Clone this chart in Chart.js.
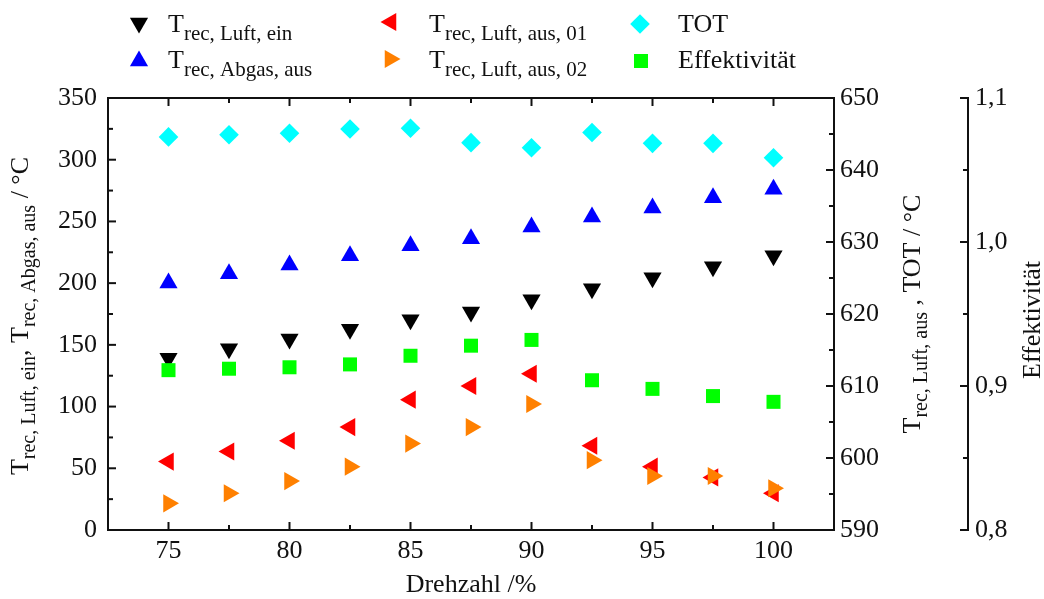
<!DOCTYPE html>
<html>
<head>
<style>
  html, body { margin: 0; padding: 0; background: #ffffff; }
  #wrap { width: 1044px; height: 599px; }
</style>
<script src="https://cdn.jsdelivr.net/npm/chart.js"></script>
</head>
<body>
<div id="wrap"><canvas id="chart" width="1044" height="599"></canvas></div>
<script>
// Drehzahl in %
const drehzahl = [75, 77.5, 80, 82.5, 85, 87.5, 90, 92.5, 95, 97.5, 100];

// left axis, °C
const tLuftEin  = [139.1, 146.9, 154.7, 162.6, 170.4, 176.6, 186.6, 195.5, 204.4, 213.3, 222.2];
const tAbgasAus = [200.1, 207.7, 214.7, 222.2, 230.3, 236.0, 245.5, 253.6, 260.9, 269.2, 276.0];

// right axis, °C
const tLuftAus01 = [599.5, 600.9, 602.4, 604.3, 608.1, 610.0, 611.7, 601.7, 598.8, 597.3, 595.1];
const tLuftAus02 = [593.7, 595.1, 596.8, 598.8, 602.0, 604.3, 607.5, 599.7, 597.5, 597.5, 595.8];
const tot        = [644.6, 644.9, 645.1, 645.7, 645.8, 643.8, 643.1, 645.2, 643.7, 643.7, 641.7];

// outer right axis
const effektivitaet = [0.911, 0.912, 0.913, 0.915, 0.921, 0.928, 0.932, 0.904, 0.898, 0.893, 0.889];

// tick values (major / minor)
const xTicks = [75, 80, 85, 90, 95, 100];
const xMinor = [77.5, 82.5, 87.5, 92.5, 97.5];
const yTicks = [0, 50, 100, 150, 200, 250, 300, 350];
const yMinor = [25, 75, 125, 175, 225, 275, 325];
const y1Ticks = [590, 600, 610, 620, 630, 640, 650];
const y1Minor = [595, 605, 615, 625, 635, 645];
const y2Ticks = [0.8, 0.9, 1.0, 1.1];
const y2Minor = [0.85, 0.95, 1.05];

const SERIF = '"Liberation Serif", "Times New Roman", serif';
const INK = '#111111';

function pts(ys) {
  return drehzahl.map((x, i) => ({ x: x, y: ys[i] }));
}

function ticksFrom(values) {
  return scale => { scale.ticks = values.map(v => ({ value: v })); };
}

// text with subscripts, drawn centred on (x, y) after rotating by angle
function richText(ctx, parts, x, y, angle, align) {
  ctx.save();
  ctx.translate(x, y);
  ctx.rotate(angle);
  ctx.fillStyle = INK;
  ctx.textBaseline = 'alphabetic';
  ctx.textAlign = 'left';
  let total = 0;
  parts.forEach(p => {
    ctx.font = p.size + 'px ' + SERIF;
    p.w = ctx.measureText(p.text).width;
    total += p.w;
  });
  let cx = align === 'center' ? -total / 2 : 0;
  parts.forEach(p => {
    ctx.font = p.size + 'px ' + SERIF;
    ctx.fillText(p.text, cx, p.dy || 0);
    cx += p.w;
  });
  ctx.restore();
}

const series = [
  { label: 'Luft ein',  data: tLuftEin,      axis: 'y',  color: '#000000', style: 'triangle', rot: 180, r: 10.5, order: 5 },
  { label: 'Abgas aus', data: tAbgasAus,     axis: 'y',  color: '#0000ff', style: 'triangle', rot: 0,   r: 10.5, order: 4 },
  { label: 'Luft aus 01', data: tLuftAus01,  axis: 'y1', color: '#ff0000', style: 'triangle', rot: -90, r: 10.5, order: 3 },
  { label: 'Luft aus 02', data: tLuftAus02,  axis: 'y1', color: '#ff8000', style: 'triangle', rot: 90,  r: 10.5, order: 2 },
  { label: 'TOT',       data: tot,           axis: 'y1', color: '#00ffff', style: 'rectRot',  rot: 0,   r: 9.8,  order: 1 },
  { label: 'Effektivität', data: effektivitaet, axis: 'y2', color: '#00ff00', style: 'rect', rot: 0,   r: 9.9,  order: 0 }
];

// legend entries: marker from the series above, text with subscripts
const legendItems = [
  { s: 0, mx: 139, my: 23, tx: 168, ty: 32, parts: [['T', 26], ['rec, Luft, ein', 21, 8]] },
  { s: 1, mx: 139, my: 61, tx: 168, ty: 68, parts: [['T', 26], ['rec, Abgas, aus', 21, 8]] },
  { s: 2, mx: 391, my: 22, tx: 429, ty: 32, parts: [['T', 26], ['rec, Luft, aus, 01', 21, 8]] },
  { s: 3, mx: 390, my: 59, tx: 429, ty: 68, parts: [['T', 26], ['rec, Luft, aus, 02', 21, 8]] },
  { s: 4, mx: 640, my: 24, tx: 678, ty: 32, parts: [['TOT', 26]] },
  { s: 5, mx: 641, my: 61, tx: 678, ty: 68, parts: [['Effektivität', 26]] }
];

const framePlugin = {
  id: 'frame',
  afterDraw(chart) {
    const ctx = chart.ctx;
    const a = chart.chartArea;
    const sx = chart.scales.x, sy = chart.scales.y, sy1 = chart.scales.y1, sy2 = chart.scales.y2;
    ctx.save();
    ctx.strokeStyle = INK;
    ctx.lineWidth = 2;
    ctx.lineCap = 'butt';
    ctx.strokeRect(a.left, a.top, a.right - a.left, a.bottom - a.top);

    const seg = (x1, y1, x2, y2) => { ctx.beginPath(); ctx.moveTo(x1, y1); ctx.lineTo(x2, y2); ctx.stroke(); };

    // inward ticks on bottom and top
    xTicks.forEach(v => { const p = sx.getPixelForValue(v); seg(p, a.bottom, p, a.bottom - 8); seg(p, a.top, p, a.top + 8); });
    xMinor.forEach(v => { const p = sx.getPixelForValue(v); seg(p, a.bottom, p, a.bottom - 5); seg(p, a.top, p, a.top + 5); });
    // left axis
    yTicks.forEach(v => { const p = sy.getPixelForValue(v); seg(a.left, p, a.left + 8, p); });
    yMinor.forEach(v => { const p = sy.getPixelForValue(v); seg(a.left, p, a.left + 5, p); });
    // right axis
    y1Ticks.forEach(v => { const p = sy1.getPixelForValue(v); seg(a.right, p, a.right - 8, p); });
    y1Minor.forEach(v => { const p = sy1.getPixelForValue(v); seg(a.right, p, a.right - 5, p); });
    // outer right axis
    const ox = sy2.left;
    seg(ox, sy2.getPixelForValue(1.1) - 1, ox, sy2.getPixelForValue(0.8) + 1);
    y2Ticks.forEach(v => { const p = sy2.getPixelForValue(v); seg(ox, p, ox - 8, p); });
    y2Minor.forEach(v => { const p = sy2.getPixelForValue(v); seg(ox, p, ox - 5, p); });
    ctx.restore();

    // axis titles
    const midY = (a.top + a.bottom) / 2;
    richText(ctx, [{ text: 'Drehzahl /%', size: 26 }], (a.left + a.right) / 2, 592, 0, 'center');
    richText(ctx, [
      { text: 'T', size: 26 }, { text: 'rec, Luft, ein', size: 20, dy: 7 },
      { text: ', ', size: 26 },
      { text: 'T', size: 26 }, { text: 'rec, Abgas, aus', size: 20, dy: 7 },
      { text: ' / °C', size: 26 }
    ], 28, midY + 2, -Math.PI / 2, 'center');
    richText(ctx, [
      { text: 'T', size: 26 }, { text: 'rec, Luft, aus', size: 20, dy: 7 },
      { text: ' , TOT / °C', size: 26 }
    ], 920, midY, -Math.PI / 2, 'center');
    richText(ctx, [{ text: 'Effektivität', size: 26 }], 1040, midY + 6, -Math.PI / 2, 'center');

    // legend
    legendItems.forEach(it => {
      const s = series[it.s];
      ctx.save();
      ctx.fillStyle = s.color;
      Chart.helpers.drawPoint(ctx, { pointStyle: s.style, radius: s.r, rotation: s.rot, borderWidth: 0 }, it.mx, it.my);
      ctx.restore();
      richText(ctx, it.parts.map(p => ({ text: p[0], size: p[1], dy: p[2] || 0 })), it.tx, it.ty, 0, 'left');
    });
  }
};

const tickFont = { family: SERIF, size: 26 };

new Chart(document.getElementById('chart'), {
  type: 'scatter',
  data: {
    datasets: series.map(s => ({
      label: s.label,
      data: pts(s.data),
      yAxisID: s.axis,
      order: s.order,
      pointStyle: s.style,
      pointRotation: s.rot,
      pointRadius: s.r,
      pointHoverRadius: s.r,
      pointBorderWidth: 0,
      backgroundColor: s.color,
      borderColor: s.color
    }))
  },
  options: {
    responsive: false,
    animation: false,
    devicePixelRatio: 1,
    layout: { padding: { top: 98, left: 0, right: 0, bottom: 0 } },
    plugins: { legend: { display: false }, tooltip: { enabled: false } },
    scales: {
      x: {
        type: 'linear', position: 'bottom', min: 72.5, max: 102.5,
        afterBuildTicks: ticksFrom(xTicks),
        afterFit: s => { s.height = 69; },
        grid: { display: false, drawTicks: false },
        border: { display: false },
        ticks: { font: tickFont, color: INK, padding: 6, maxRotation: 0 }
      },
      y: {
        position: 'left', min: 0, max: 350,
        afterBuildTicks: ticksFrom(yTicks),
        afterFit: s => { s.width = 108; },
        grid: { display: false, drawTicks: false },
        border: { display: false },
        ticks: { font: tickFont, color: INK, padding: 11 }
      },
      y1: {
        position: 'right', min: 590, max: 650, weight: 0,
        afterBuildTicks: ticksFrom(y1Ticks),
        afterFit: s => { s.width = 134; },
        grid: { display: false, drawTicks: false },
        border: { display: false },
        ticks: { font: tickFont, color: INK, padding: 6 }
      },
      y2: {
        position: 'right', min: 0.8, max: 1.1, weight: 1,
        afterBuildTicks: ticksFrom(y2Ticks),
        afterFit: s => { s.width = 76; },
        grid: { display: false, drawTicks: false },
        border: { display: false },
        ticks: {
          font: tickFont, color: INK, padding: 7,
          callback: v => v.toFixed(1).replace('.', ',')
        }
      }
    }
  },
  plugins: [framePlugin]
});
</script>
</body>
</html>
